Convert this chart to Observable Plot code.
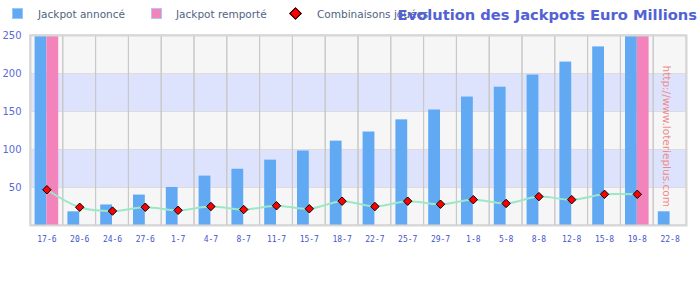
<!DOCTYPE html>
<html>
<head>
<meta charset="utf-8">
<script src="https://cdn.jsdelivr.net/npm/d3@7"></script>
<script src="https://cdn.jsdelivr.net/npm/@observablehq/plot@0.6"></script>
<style>
  html, body { margin: 0; padding: 0; background: #ffffff; }
  #wrap { width: 700px; height: 300px; position: relative; overflow: hidden; font-family: "DejaVu Sans", sans-serif; }
  #head { position: relative; width: 700px; height: 30px; }
  .sq { position: absolute; top: 8px; width: 9px; height: 9px; }
  .lt { position: absolute; top: 8px; font-size: 10.5px; color: #4f6482; line-height: 12px; white-space: nowrap; }
  .dm { position: absolute; top: 9px; width: 7px; height: 7px; background: #ff0000; border: 1px solid #000; transform: rotate(45deg); }
  #title { position: absolute; right: 3px; top: 6px; font-size: 14.7px; font-weight: bold; color: #5262d4; white-space: nowrap; line-height: 18px; }
  #chart svg { display: block; }
  #chart g[aria-label^="x-axis"] text { font-family: "DejaVu Sans Mono", monospace; font-size: 8px; fill: #4455cc; }
  #chart g[aria-label^="y-axis"] text { font-family: "DejaVu Sans", sans-serif; font-size: 10px; fill: #5a6ad8; }
</style>
</head>
<body>
<div id="wrap">
  <div id="head"></div>
  <div id="chart"></div>
</div>
<script>
// ---- data ----
const dates = ["17-6","20-6","24-6","27-6","1-7","4-7","8-7","11-7","15-7","18-7","22-7","25-7","29-7","1-8","5-8","8-8","12-8","15-8","19-8","22-8"];
const jackpotAnnonce = [250, 18, 27, 40, 50, 65, 74, 86, 98, 111, 123, 139, 152, 169, 182, 198, 215, 235, 250, 18];
const jackpotRemporte = [250, null, null, null, null, null, null, null, null, null, null, null, null, null, null, null, null, null, 250, null];
const combinaisons = [47, 24, 19, 24, 20, 25, 21, 26, 22, 32, 25, 32, 28, 34, 29, 38, 34, 41, 41, null];
const yTicks = [50, 100, 150, 200, 250];
const bandLo = [50, 150];
const bandHi = [100, 200];
const gridY = [50, 100, 150, 200];
const seriesNames = ["Jackpot annoncé", "Jackpot remporté", "Combinaisons jouées"];
const titleText = "Evolution des Jackpots Euro Millions";
const watermark = "http://www.loterieplus.com";

const rows = dates.map((d, i) => ({date: d, annonce: jackpotAnnonce[i], remporte: jackpotRemporte[i], comb: combinaisons[i]}));
const bands = bandLo.map((lo, i) => ({lo, hi: bandHi[i]}));

// ---- header (legend + title) ----
const head = document.getElementById("head");
head.innerHTML = `
  <div class="sq" style="left:12px;background:#62a9f4;border:1px solid #9cc8f8"></div>
  <div class="lt" style="left:38px">${seriesNames[0]}</div>
  <div class="sq" style="left:151px;background:#f284bb;border:1px solid #b8c4f4"></div>
  <div class="lt" style="left:176px">${seriesNames[1]}</div>
  <div class="dm" style="left:291px"></div>
  <div class="lt" style="left:317px">${seriesNames[2]}</div>
  <div id="title">${titleText}</div>`;

// ---- chart ----
const chart = Plot.plot({
  width: 700,
  height: 270,
  marginTop: 5,
  marginBottom: 75,
  marginLeft: 30,
  marginRight: 14,
  style: {fontFamily: "DejaVu Sans, sans-serif", background: "#ffffff"},
  x: {domain: dates, padding: 0, round: false, label: null, tickSize: 0, tickPadding: 11},
  y: {domain: [0, 250], ticks: yTicks, label: null, tickSize: 0, tickPadding: 9},
  marks: [
    Plot.frame({fill: "#f6f6f6"}),
    Plot.rect(bands, {y1: "lo", y2: "hi", fill: "#dde3fd"}),
    Plot.ruleY(gridY, {stroke: "#dcdcdc"}),
    Plot.barY(dates, {x: d => d, y1: 0, y2: 250, fill: "none", stroke: "#c8c8c8"}),
    Plot.barY(rows, {x: "date", y: "annonce", fill: "#62a9f4", insetLeft: 4.6, insetRight: 16.4}),
    Plot.barY(rows.filter(r => r.remporte != null), {x: "date", y: "remporte", fill: "#f284bb", insetLeft: 16.4, insetRight: 4.6}),
    Plot.frame({stroke: "#d6d6d6", strokeWidth: 2}),
    Plot.line(rows.filter(r => r.comb != null), {x: "date", y: "comb", stroke: "#9ce8c6", strokeWidth: 2, curve: "catmull-rom"}),
    Plot.dot(rows.filter(r => r.comb != null), {x: "date", y: "comb", symbol: "diamond2", r: 3.8, fill: "#ff0000", stroke: "#000000", strokeWidth: 1}),
    Plot.text([watermark], {text: d => d, frameAnchor: "top-right", rotate: 90, textAnchor: "start", dx: -16, dy: 30, fill: "#f08a8a", fontSize: 10.5})
  ]
});
document.getElementById("chart").appendChild(chart);
</script>
</body>
</html>
